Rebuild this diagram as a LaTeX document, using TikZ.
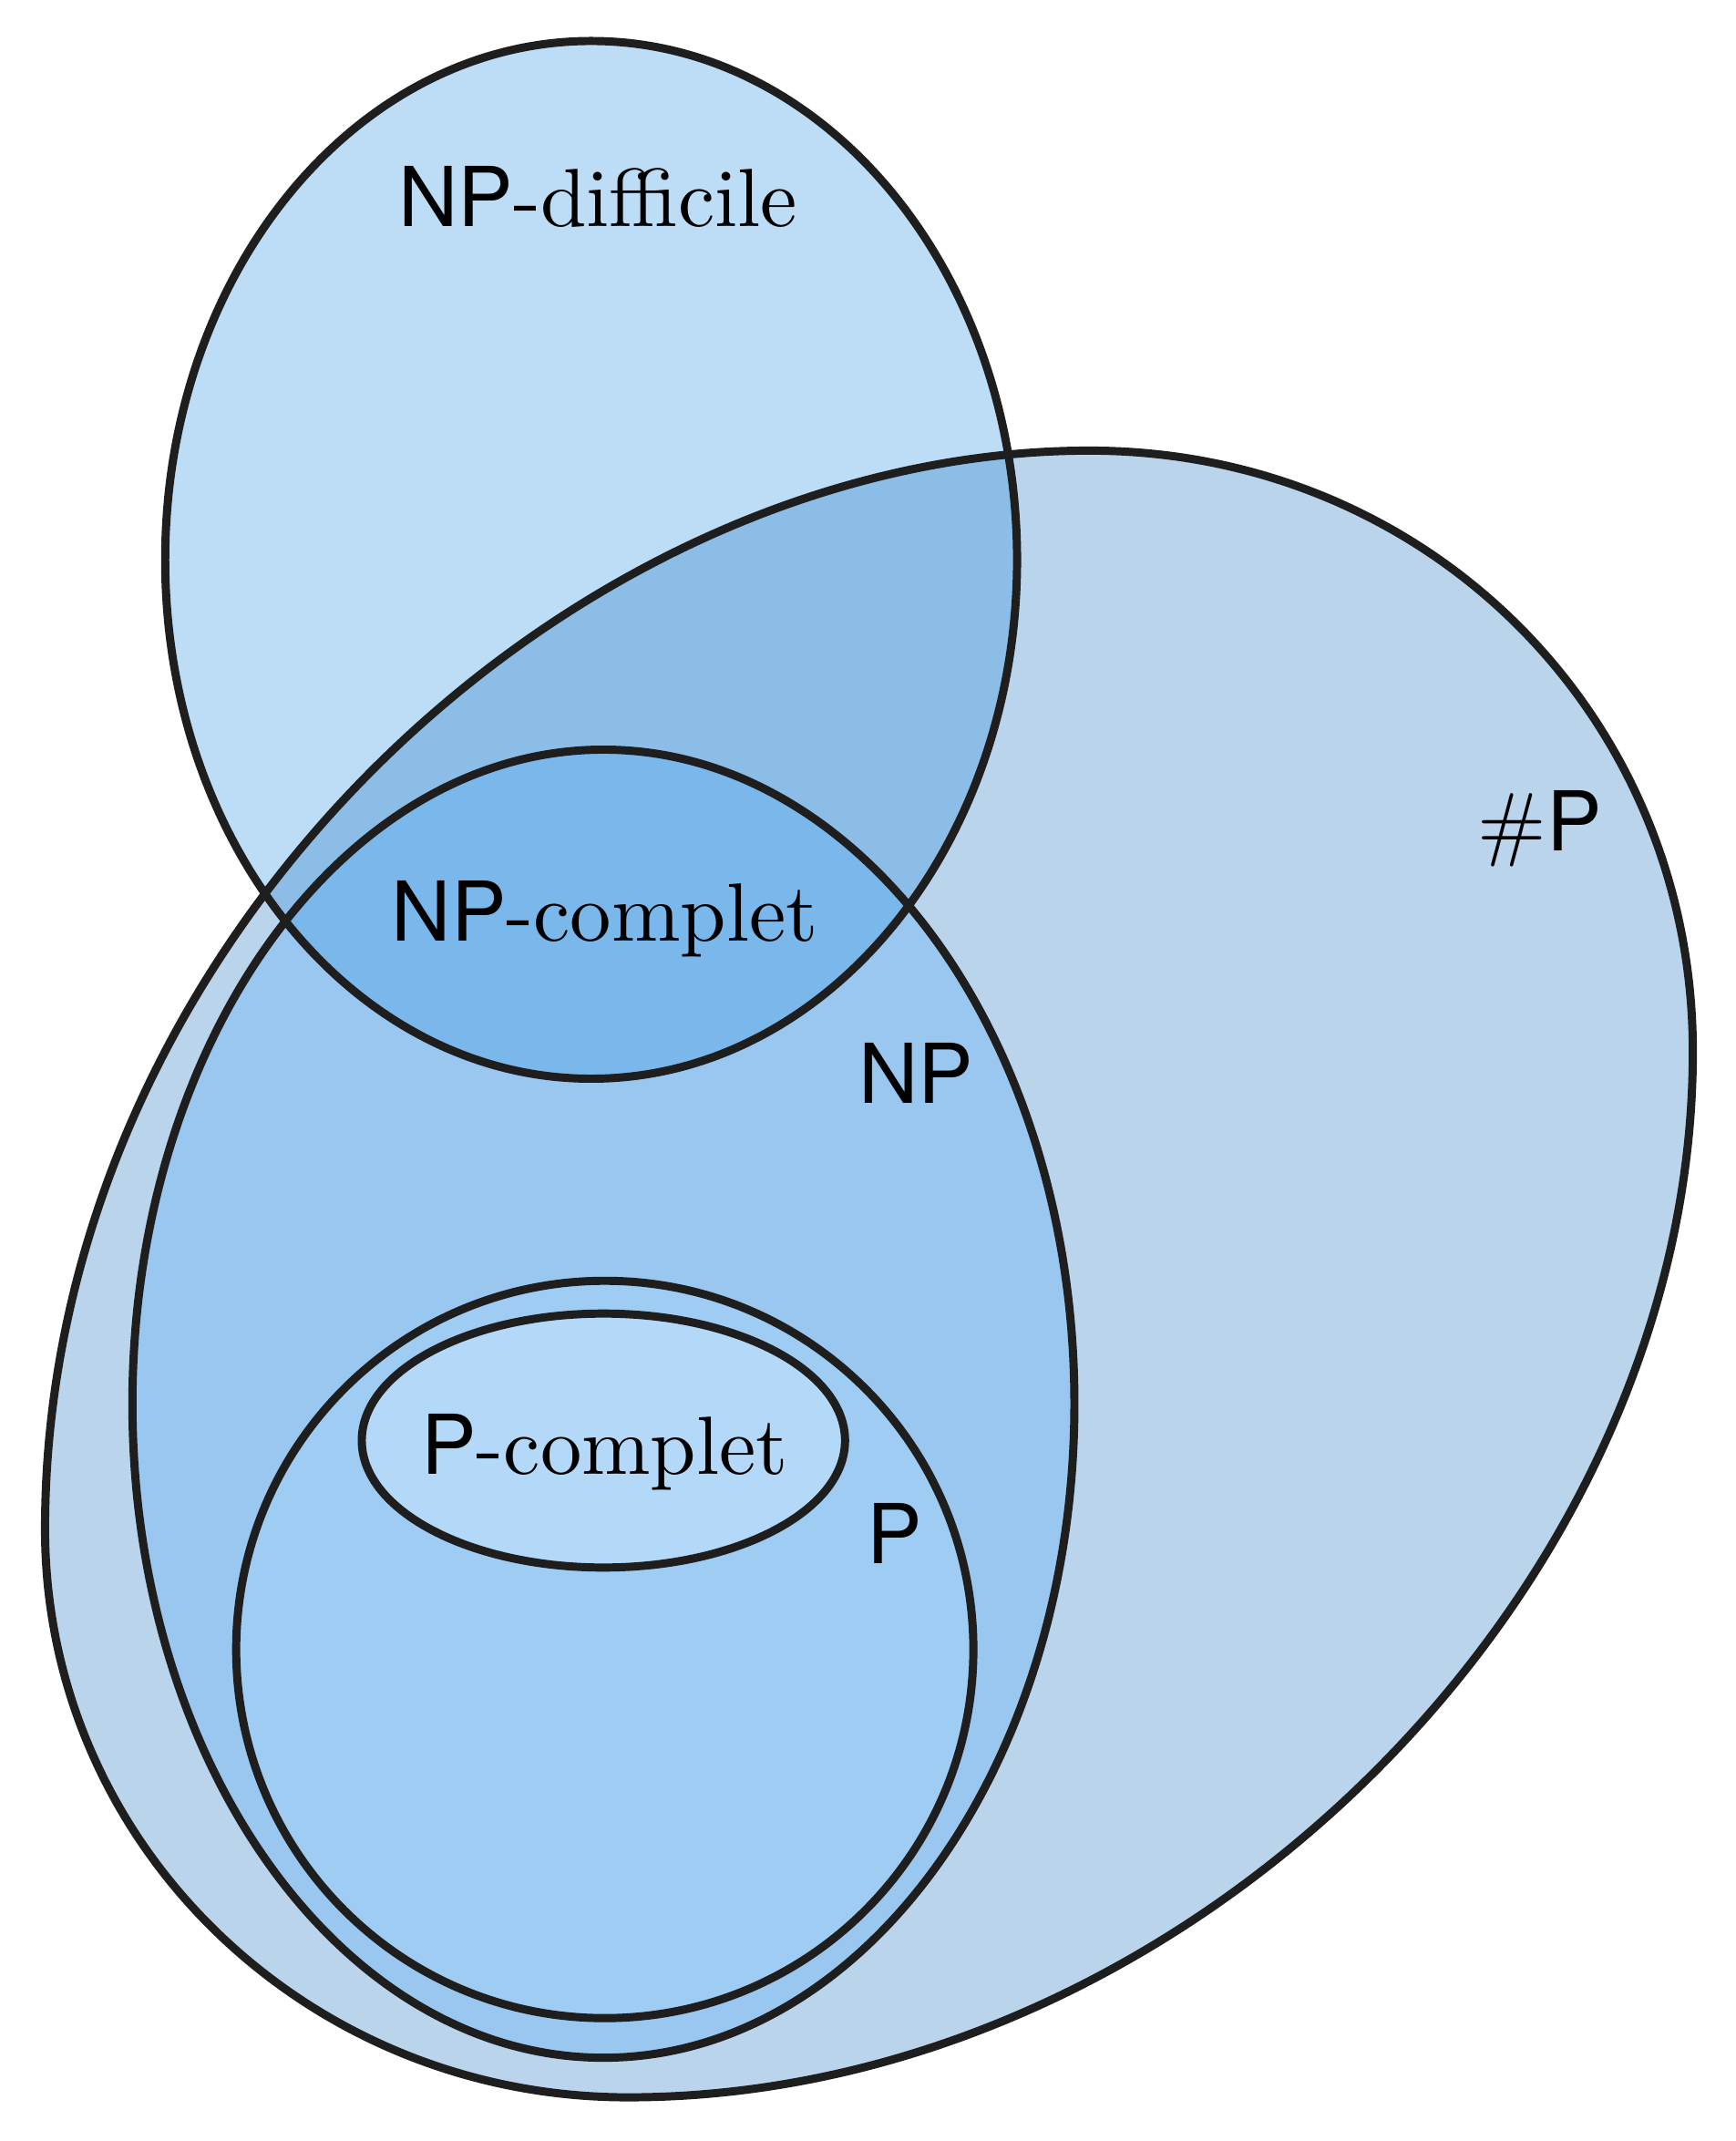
\documentclass[tikz,border=0pt]{standalone}
\usepackage{fontspec}
\newfontfamily\clsfont{TeX Gyre Heros}
\usepackage{tikz}
\usetikzlibrary{positioning}

\definecolor{nphardcol}{HTML}{BDDCF6}
\definecolor{sharpcol}{HTML}{BAD4EC}
\definecolor{bothcol}{HTML}{8CBDE6}
\definecolor{npcol}{HTML}{99C7F0}
\definecolor{npcompcol}{HTML}{7AB8EC}
\definecolor{pcol}{HTML}{9ECCF3}
\definecolor{pcompcol}{HTML}{B4D8F7}
\definecolor{edgecol}{HTML}{1E1E1E}

\newcommand{\setname}[1]{\fontsize{10}{12}\selectfont\scalebox{1.72}{#1}}

\begin{document}
\begin{tikzpicture}[
    x=0.01cm, y=-0.01cm,
    setline/.style={draw=edgecol, line width=1.7pt},
    setlabel/.style={anchor=base, inner sep=0pt},
]
  \useasboundingbox (0,0) rectangle (1271,1568);

  % set outlines
  \def\nphardset{(433,410) ellipse [x radius=312, y radius=380]}
  \def\sharpset{(798,330) .. controls (1045,330) and (1240,524) .. (1240,770)
    .. controls (1240,1168) and (866,1536) .. (460,1536)
    .. controls (224,1536) and (33,1350) .. (33,1120)
    .. controls (33,690) and (418,330) .. (798,330) -- cycle}
  \def\npset{(442,1028) ellipse [x radius=345, y radius=479]}
  \def\pset{(443,1208) circle [radius=270]}
  \def\pcompset{(442,1055) ellipse [x radius=177, y radius=93]}

  % fills
  \fill[nphardcol] \nphardset;
  \fill[sharpcol] \sharpset;
  \begin{scope}
    \clip \sharpset;
    \fill[bothcol] \nphardset;
  \end{scope}
  \fill[npcol] \npset;
  \begin{scope}
    \clip \npset;
    \fill[npcompcol] \nphardset;
  \end{scope}
  \fill[pcol] \pset;
  \fill[pcompcol] \pcompset;

  % borders
  \draw[setline] \sharpset;
  \draw[setline] \nphardset;
  \draw[setline] \npset;
  \draw[setline] \pset;
  \draw[setline] \pcompset;

  % labels
  \node[setlabel] (nphard) at (438,166) {\setname{{\clsfont NP}-difficile}};
  \node[setlabel] (npcomp) at (443,689) {\setname{{\clsfont NP}-complet}};
  \node[setlabel] (np) at (671,808) {\setname{\clsfont NP}};
  \node[setlabel] (pcomp) at (443,1080) {\setname{{\clsfont P}-complet}};
  \node[setlabel] (p) at (655,1145) {\setname{\clsfont P}};
  \node[setlabel] (sharpp) at (1128,623) {\setname{\#{\clsfont P}}};
\end{tikzpicture}
\end{document}
